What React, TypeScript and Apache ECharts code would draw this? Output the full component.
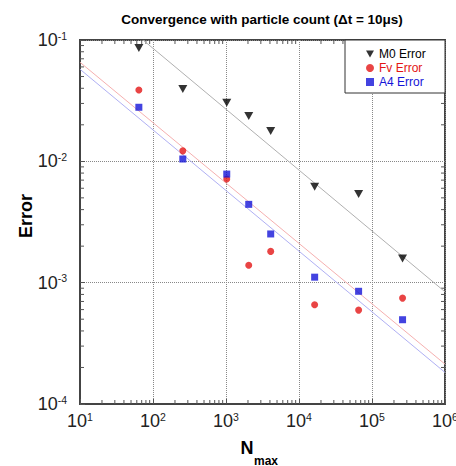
import React, { useEffect, useRef } from "react";
import * as echarts from "echarts";

// ---- data ----
const nValues = [64, 256, 1024, 2048, 4096, 16384, 65536, 262144];
const m0Error = [0.086, 0.0394, 0.0304, 0.0236, 0.0178, 0.00618, 0.00537, 0.00158];
const fvError = [0.0387, 0.0122, 0.00714, 0.00139, 0.00181, 0.000658, 0.000594, 0.000746];
const a4Error = [0.0279, 0.01045, 0.00785, 0.00442, 0.00252, 0.00111, 0.000849, 0.000495];

// fitted reference lines (end points)
const m0FitN = [73, 1e6];
const m0Fit = [0.1, 0.00084];
const fvFitN = [10, 1e6];
const fvFit = [0.0655, 0.000213];
const a4FitN = [10, 1e6];
const a4Fit = [0.0574, 0.000182];

// axes
const xMin = 10;
const xMax = 1e6;
const yMin = 1e-4;
const yMax = 1e-1;
const xTickExps = ["1", "2", "3", "4", "5", "6"];
const yTickExps = ["-4", "-3", "-2", "-1"];
const xDecades = [10, 100, 1000, 10000, 100000];
const yDecades = [1e-4, 1e-3, 1e-2];
const minorMultipliers = [2, 3, 4, 5, 6, 7, 8, 9];

const seriesNames = ["M0 Error", "Fv Error", "A4 Error"];
const colors = ["#000000", "#e41515", "#1414d8"];
const fitColors = ["#b0b0b0", "#f6b0b0", "#b0b0f4"];

const FONT = "Liberation Sans, Arial, sans-serif";
const TRI_DOWN = "path://M0,0L10,0L5,9Z";

export default function App() {
  const ref = useRef<HTMLDivElement>(null);

  useEffect(() => {
    if (!ref.current) return;
    const chart = echarts.init(ref.current, undefined, { renderer: "svg" });

    const xMinor: number[][] = [];
    xDecades.forEach((d) => minorMultipliers.forEach((m) => xMinor.push([d * m, yMin])));
    const yMinor: number[][] = [];
    yDecades.forEach((d) => minorMultipliers.forEach((m) => yMinor.push([xMin, d * m])));

    const tickStyle = { stroke: "#555", lineWidth: 1 };
    const rich = {
      b: { fontSize: 18, lineHeight: 20, fontFamily: FONT, color: "#222" },
      s: { fontSize: 10.5, lineHeight: 6, verticalAlign: "top", fontFamily: FONT, color: "#222" },
    };

    const option: any = {
      animation: false,
      backgroundColor: "#ffffff",
      grid: {
        left: 80,
        top: 40,
        width: 365,
        height: 364,
        show: true,
        borderColor: "#444",
        borderWidth: 2,
        backgroundColor: "transparent",
        containLabel: false,
        outerBoundsMode: "none",
      },
      xAxis: {
        type: "log",
        logBase: 10,
        min: xMin,
        max: xMax,
        axisLine: { show: true, lineStyle: { color: "#444", width: 2 } },
        axisTick: { show: true, inside: true, length: 5, lineStyle: { color: "#555" } },
        splitLine: { show: true, lineStyle: { color: "#888", type: "dotted", width: 1 } },
        axisLabel: {
          margin: 7,
          formatter: (v: number) => {
            const e = Math.round(Math.log10(v));
            return `{b|10}{s|${xTickExps[e - 1]}}`;
          },
          rich,
        },
      },
      yAxis: {
        type: "log",
        logBase: 10,
        min: yMin,
        max: yMax,
        axisLine: { show: true, lineStyle: { color: "#444", width: 2 } },
        axisTick: { show: true, inside: true, length: 5, lineStyle: { color: "#555" } },
        splitLine: { show: true, lineStyle: { color: "#888", type: "dotted", width: 1 } },
        axisLabel: {
          margin: 13,
          formatter: (v: number) => {
            const e = Math.round(Math.log10(v));
            return `{b|10}{s|${yTickExps[e + 4]}}`;
          },
          rich,
        },
      },
      legend: {
        orient: "vertical",
        left: 366,
        top: 48,
        padding: 0,
        itemWidth: 8,
        itemHeight: 8,
        itemGap: 2,
        itemTextGap: 18,
        textStyle: { fontSize: 12, fontFamily: FONT },
        data: seriesNames.map((n, i) => ({ name: n, textStyle: { color: colors[i] } })),
      },
      graphic: [
        {
          type: "rect",
          z: 3,
          shape: { x: 345, y: 40, width: 100, height: 53 },
          style: { fill: "#ffffff", stroke: "#333", lineWidth: 1 },
        },
        {
          type: "text",
          x: 262,
          y: 19,
          style: {
            text: "Convergence with particle count (\u0394t = 10\u03bcs)",
            font: `bold 13.5px ${FONT}`,
            fill: "#000",
            align: "center",
            verticalAlign: "middle",
          },
        },
        {
          type: "text",
          x: 26,
          y: 216,
          rotation: Math.PI / 2,
          style: {
            text: "Error",
            font: `bold 18px ${FONT}`,
            fill: "#000",
            align: "center",
            verticalAlign: "middle",
          },
        },
        {
          type: "text",
          x: 247,
          y: 447.5,
          style: {
            text: "N",
            font: `bold 18px ${FONT}`,
            fill: "#000",
            align: "center",
            verticalAlign: "middle",
          },
        },
        {
          type: "text",
          x: 254,
          y: 460.5,
          style: {
            text: "max",
            font: `bold 12px ${FONT}`,
            fill: "#000",
            align: "left",
            verticalAlign: "middle",
          },
        },
      ],
      series: [
        {
          type: "line",
          data: m0FitN.map((n, i) => [n, m0Fit[i]]),
          symbol: "none",
          lineStyle: { color: fitColors[0], width: 1 },
          silent: true,
          z: 1,
        },
        {
          type: "line",
          data: fvFitN.map((n, i) => [n, fvFit[i]]),
          symbol: "none",
          lineStyle: { color: fitColors[1], width: 1 },
          silent: true,
          z: 1,
        },
        {
          type: "line",
          data: a4FitN.map((n, i) => [n, a4Fit[i]]),
          symbol: "none",
          lineStyle: { color: fitColors[2], width: 1 },
          silent: true,
          z: 1,
        },
        {
          name: seriesNames[0],
          type: "scatter",
          symbol: TRI_DOWN,
          symbolSize: [9, 8],
          itemStyle: { color: colors[0] },
          data: nValues.map((n, i) => [n, m0Error[i]]),
          z: 2,
        },
        {
          name: seriesNames[1],
          type: "scatter",
          symbol: "circle",
          symbolSize: 7,
          itemStyle: { color: colors[1] },
          data: nValues.map((n, i) => [n, fvError[i]]),
          z: 2,
        },
        {
          name: seriesNames[2],
          type: "scatter",
          symbol: "rect",
          symbolSize: 7,
          itemStyle: { color: colors[2] },
          data: nValues.map((n, i) => [n, a4Error[i]]),
          z: 2,
        },
        {
          type: "custom",
          silent: true,
          clip: false,
          z: 1,
          data: xMinor,
          renderItem: (_p: any, api: any) => {
            const v = api.value(0);
            const b = api.coord([v, yMin]);
            const t = api.coord([v, yMax]);
            return {
              type: "group",
              children: [
                { type: "line", shape: { x1: b[0], y1: b[1], x2: b[0], y2: b[1] - 4 }, style: tickStyle },
                { type: "line", shape: { x1: t[0], y1: t[1], x2: t[0], y2: t[1] + 4 }, style: tickStyle },
              ],
            };
          },
        },
        {
          type: "custom",
          silent: true,
          clip: false,
          z: 1,
          data: yMinor,
          renderItem: (_p: any, api: any) => {
            const v = api.value(1);
            const l = api.coord([xMin, v]);
            const r = api.coord([xMax, v]);
            return {
              type: "group",
              children: [
                { type: "line", shape: { x1: l[0], y1: l[1], x2: l[0] + 4, y2: l[1] }, style: tickStyle },
                { type: "line", shape: { x1: r[0], y1: r[1], x2: r[0] - 4, y2: r[1] }, style: tickStyle },
              ],
            };
          },
        },
      ],
    };

    chart.setOption(option);
    return () => chart.dispose();
  }, []);

  return (
    <div
      ref={ref}
      style={{ position: "fixed", left: 0, top: 0, width: 456, height: 466, background: "#fff" }}
    />
  );
}
